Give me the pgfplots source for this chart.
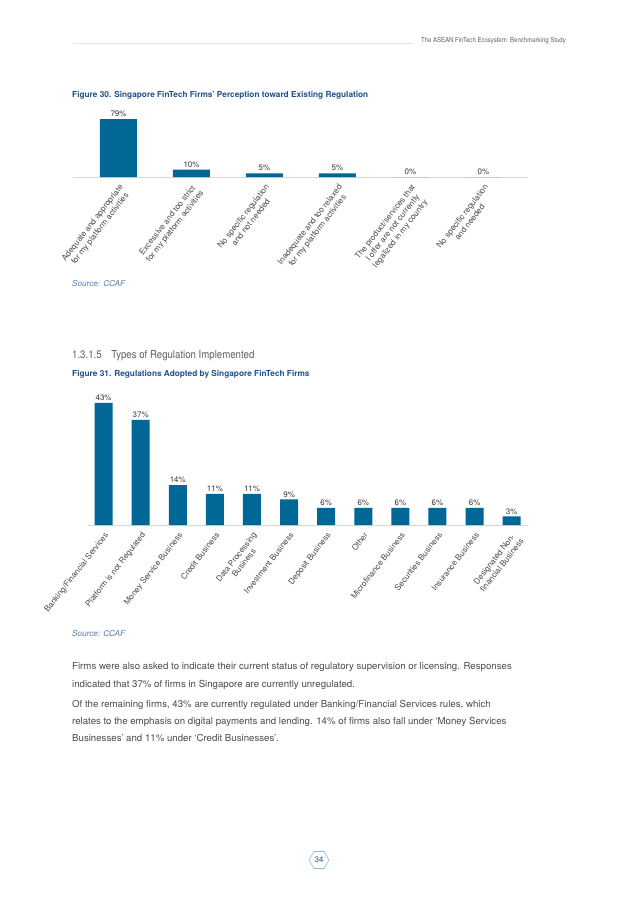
\documentclass[border=0pt]{standalone}
\usepackage{pgfplots}
\pgfplotsset{compat=1.18}
\usepackage{fontspec}
\setmainfont{TeX Gyre Heros}

\definecolor{barblue}{RGB}{0,103,150}
\definecolor{titleblue}{RGB}{32,80,140}
\definecolor{srcblue}{RGB}{90,125,170}
\definecolor{txtgray}{RGB}{75,75,75}
\definecolor{headgray}{RGB}{95,95,95}
\definecolor{axisgray}{RGB}{215,215,215}
\definecolor{hexblue}{RGB}{125,195,220}

\pgfplotsset{
  regbars/.style={
    scale only axis,
    ybar, ymin=0,
    axis x line*=bottom,
    axis y line=none,
    x axis line style={draw=axisgray, line width=0.8pt, -},
    xtick style={draw=none},
    xticklabel style={align=center, rotate=52, anchor=north east,
      font=\fontsize{8.2}{9.6}\selectfont, text=txtgray, inner sep=1.5pt},
    /pgf/number format/assume math mode=true,
    nodes near coords={\pgfmathprintnumber{\pgfplotspointmeta}\%},
    every node near coord/.append style={font=\fontsize{8}{8.5}\selectfont,
      text=black!80, inner sep=2pt},
    clip=false,
  }
}

\begin{document}
\begin{tikzpicture}
\fill[white] (0,0) rectangle (638bp,-902bp);
\path[use as bounding box] (0,0) rectangle (638bp,-902bp);

% running head
\draw[axisgray!70, line width=0.5pt] (73bp,-43bp) -- (413bp,-43bp);
\node[anchor=base east, inner sep=0, text=headgray] at (566bp,-42bp)
  {\scalebox{0.89}[1]{\fontsize{6.8}{7}\selectfont The ASEAN FinTech Ecosystem\ \ Benchmarking Study}};

% Figure 30
\node[anchor=base west, inner sep=0, text=titleblue,
  font=\fontsize{8.3}{9}\selectfont\bfseries] at (72bp,-97bp)
  {Figure 30. Singapore FinTech Firms' Perception toward Existing Regulation};

\begin{axis}[regbars,
  at={(73bp,-177bp)}, anchor=south west,
  width=455bp, height=58.7bp,
  ymax=80, xmin=-0.623, xmax=5.61,
  bar width=37bp,
  xtick={0,...,5},
  xticklabels={
    {Adequate and appropriate\\for my platform activities},
    {Excessive and too strict\\for my platform activities},
    {No specific regulation\\and not needed},
    {Inadequate and too relaxed\\for my platform activities},
    {The product/services that\\I offer are not currently\\legalized in my country},
    {No specific regulation\\and needed}},
  ]
  \addplot[fill=barblue, draw=none] coordinates {
    (0,79) (1,10) (2,5) (3,5) (4,0) (5,0)};
\end{axis}

\node[anchor=base west, inner sep=0, text=srcblue,
  font=\fontsize{8.2}{9}\selectfont\itshape] at (72bp,-286bp) {Source: CCAF};

% section heading
\node[anchor=base west, inner sep=0, text=headgray] at (72bp,-358bp)
  {\scalebox{0.88}[1]{\fontsize{11}{12}\selectfont 1.3.1.5\quad Types of Regulation Implemented}};

% Figure 31
\node[anchor=base west, inner sep=0, text=titleblue,
  font=\fontsize{8.3}{9}\selectfont\bfseries] at (72bp,-376bp)
  {Figure 31. Regulations Adopted by Singapore FinTech Firms};

\begin{axis}[regbars,
  at={(88bp,-525bp)}, anchor=south west,
  width=440bp, height=127.8bp,
  ymax=45, xmin=-0.42, xmax=11.44,
  bar width=18bp,
  xtick={0,...,11},
  xticklabels={
    {Banking/Financial Services},
    {Platform is not Regulated},
    {Money Service Business},
    {Credit Business},
    {Data Processing\\Business},
    {Investment Business},
    {Deposit Business},
    {Other},
    {Microfinance Business},
    {Securities Business},
    {Insurance Business},
    {Designated Non-\\financial Business}},
  ]
  \addplot[fill=barblue, draw=none] coordinates {
    (0,43) (1,37) (2,14) (3,11) (4,11) (5,9)
    (6,6) (7,6) (8,6) (9,6) (10,6) (11,3)};
\end{axis}

\node[anchor=base west, inner sep=0, text=srcblue,
  font=\fontsize{8.2}{9}\selectfont\itshape] at (72bp,-636bp) {Source: CCAF};

% body text
\begin{scope}[every node/.style={anchor=base west, inner sep=0, text=txtgray,
    font=\fontsize{9.7}{11}\selectfont}]
  \node at (72bp,-669.5bp) {Firms were also asked to indicate their current status of regulatory supervision or licensing. Responses};
  \node at (72bp,-687.5bp) {indicated that 37\% of firms in Singapore are currently unregulated.};
  \node at (72bp,-707.5bp) {Of the remaining firms, 43\% are currently regulated under Banking/Financial Services rules, which};
  \node at (72bp,-724.5bp) {relates to the emphasis on digital payments and lending. 14\% of firms also fall under ‘Money Services};
  \node at (72bp,-741.5bp) {Businesses’ and 11\% under ‘Credit Businesses’.};
\end{scope}

% page number
\draw[hexblue, line width=0.6pt]
  (309bp,-860bp) -- (314bp,-851.5bp) -- (324bp,-851.5bp) -- (329bp,-860bp)
  -- (324bp,-868.5bp) -- (314bp,-868.5bp) -- cycle;
\node[text=titleblue, font=\fontsize{8}{8}\selectfont, inner sep=0] at (319bp,-860bp) {34};
\end{tikzpicture}
\end{document}
